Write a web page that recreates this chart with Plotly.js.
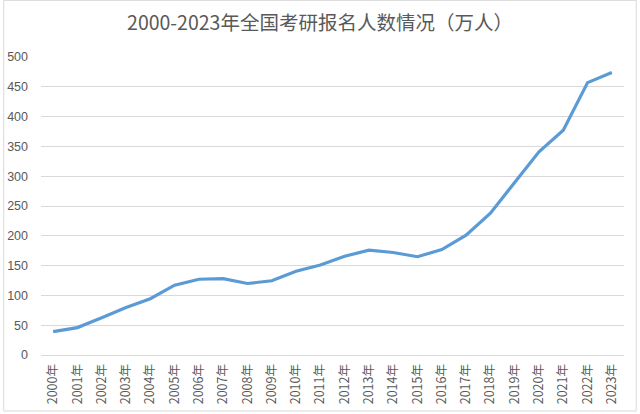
<!DOCTYPE html>
<html><head><meta charset="utf-8">
<script src="https://cdn.plot.ly/plotly-3.0.1.min.js"></script>
<style>html,body{margin:0;padding:0;background:#fff;}#c{width:640px;height:414px;}</style>
</head><body><div id="c"></div>
<script>
const years = ["2000年","2001年","2002年","2003年","2004年","2005年","2006年","2007年","2008年","2009年","2010年","2011年","2012年","2013年","2014年","2015年","2016年","2017年","2018年","2019年","2020年","2021年","2022年","2023年"];
const applicants = [39.2,46,62.4,79.7,94.5,117.2,127.1,128.2,120,124.6,140.6,151.1,165.6,176,172,164.9,177,201,238,290,341,377,457,474];
const yTicks = [0,50,100,150,200,250,300,350,400,450,500];

Plotly.newPlot('c', [{
  x: years, y: applicants, type: 'scatter', mode: 'lines',
  line: {color: '#5b9bd5', width: 3.2}, hoverinfo: 'skip'
}], {
  width: 640, height: 414,
  margin: {l: 41, r: 16, t: 57, b: 59},
  paper_bgcolor: '#fff', plot_bgcolor: '#fff',
  showlegend: false,
  title: {text: '2000-2023年全国考研报名人数情况（万人）', x: 0.5, xanchor: 'center', y: 0.945, yanchor: 'middle',
          font: {family: 'Noto Sans CJK SC', size: 19.5, color: '#595959'}},
  xaxis: {type: 'category', range: [-0.5, 23.5], tickangle: -90, showgrid: false, showline: true, linecolor: '#d9d9d9', linewidth: 1,
          ticks: '', tickfont: {family: 'Noto Sans CJK SC', size: 12.5, color: '#595959'}, ticklabelstandoff: 3,
          zeroline: false, fixedrange: true},
  yaxis: {range: [0, 500], tickvals: yTicks, showgrid: true, gridcolor: '#d9d9d9', gridwidth: 1,
          zeroline: false, showline: false, ticks: '', ticklabelstandoff: 12,
          tickfont: {family: 'Liberation Sans', size: 12.5, color: '#595959'}, fixedrange: true},
  shapes: [{type: 'rect', xref: 'paper', yref: 'paper', x0: -0.064, x1: 1.021, y0: -0.188, y1: 1.19,
            line: {color: '#d9d9d9', width: 1}}]
}, {displayModeBar: false, staticPlot: true});
</script></body></html>
